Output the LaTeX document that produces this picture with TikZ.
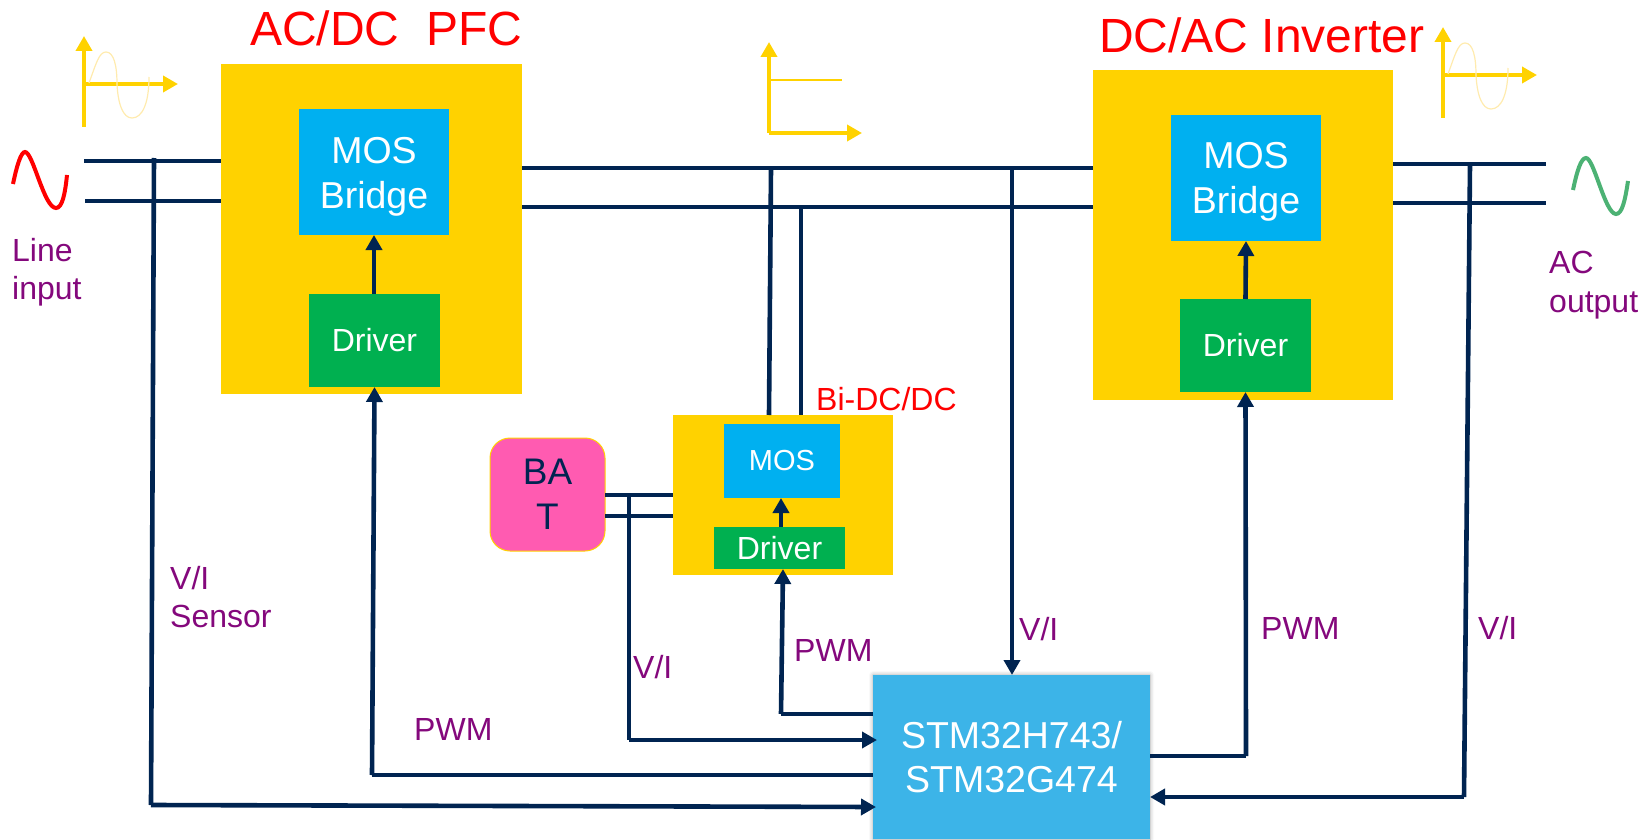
\documentclass[tikz,border=0pt]{standalone}
\usepackage{fontspec}
\setmainfont{Liberation Sans}
\usetikzlibrary{arrows.meta,shadows.blur}
\definecolor{navy}{HTML}{002451}
\definecolor{gold}{HTML}{FFD200}
\definecolor{paleg}{HTML}{FFEBAE}
\definecolor{mosc}{HTML}{00B0F0}
\definecolor{drvc}{HTML}{00B050}
\definecolor{stmc}{HTML}{3CB4E8}
\definecolor{batc}{HTML}{FF5BB1}
\definecolor{lab}{HTML}{84087C}
\definecolor{acg}{HTML}{4CB274}
\tikzset{
  box/.style={inner sep=0pt,outer sep=0pt,minimum width=#1},
  stage/.style={box=#1,fill=gold},
  mosbox/.style={box=#1,fill=mosc,text=white,align=center,font=\fontsize{37.5}{45}\selectfont},
  drvbox/.style={box=#1,fill=drvc,text=white,font=\fontsize{32}{38}\selectfont},
  wire/.style={draw=navy,line width=4.6pt},
  sig/.style={wire,-{Triangle[length=15pt,width=16pt]}},
  axis/.style={draw=gold,line width=3.7pt,-{Triangle[length=15pt,width=16pt]}},
  tag/.style={anchor=base west,inner sep=0pt,text=lab,font=\fontsize{32}{38}\selectfont},
  title/.style={anchor=base west,inner sep=0pt,text=red,font=\fontsize{48}{56}\selectfont},
  wave/.style={line width=1.2pt,draw=paleg},
}
\begin{document}
\begin{tikzpicture}[x=1pt,y=-1pt]
\useasboundingbox (0,0) rectangle (1644,840);
% stages
\node[stage=301pt,minimum height=329pt] (pfc) at (371.5,229) {};
\node[stage=300pt,minimum height=329pt] (inv) at (1243,235) {};
\node[stage=220pt,minimum height=160pt] (bi) at (783,494.5) {};
\node[mosbox=150pt,minimum height=126pt] (pmos) at (374,172) {};
\node[mosbox=150pt,minimum height=126pt] (imos) at (1246,178) {};
\node[text=white,align=center,inner sep=0pt,font=\fontsize{37.5}{45}\selectfont] (pmost) at (374,177) {MOS\\Bridge};
\node[text=white,align=center,inner sep=0pt,font=\fontsize{37.5}{45}\selectfont] (imost) at (1246,182) {MOS\\Bridge};
\node[drvbox=131pt,minimum height=93pt] (pdrv) at (374.5,340.5) {Driver};
\node[drvbox=131pt,minimum height=93pt] (idrv) at (1245.5,345.5) {\raisebox{-1pt}{Driver}};
\node[box=116pt,minimum height=74pt,fill=mosc,text=white,font=\fontsize{29}{34}\selectfont] (bmos) at (782,461) {MOS};
\node[drvbox=131pt,minimum height=42pt] (bdrv) at (779.5,548) {Driver};
\node[box=115pt,minimum height=113pt,draw=gold,line width=1pt,fill=batc,rounded corners=20pt,text=navy,align=center,font=\fontsize{37}{45}\selectfont] (bat) at (547.5,494.5) {BA\\T};
\node[box=277pt,minimum height=164pt,fill=stmc,text=white,align=center,font=\fontsize{37.5}{44}\selectfont,blur shadow={shadow xshift=0pt,shadow yshift=0pt,shadow blur radius=4pt,shadow opacity=35}] (stm) at (1011.5,757) {\raisebox{1pt}{STM32H743/}\\\raisebox{1pt}{STM32G474}};
% named points
\coordinate (inA) at (84,161); \coordinate (inB) at (85,201);
\coordinate (outA) at (1546,164); \coordinate (outB) at (1546,203);
\coordinate (sensTop) at (154,158); \coordinate (sensBot) at (151,805);
\coordinate (sensEnd) at (876,807);
\coordinate (outTop) at (1470,164); \coordinate (outBot) at (1464,797);
\coordinate (dcTap) at (1012,168);
\coordinate (biAtop) at (771,168); \coordinate (biAbot) at (769,415);
\coordinate (biBtop) at (801,207); \coordinate (biBbot) at (801,415);
\coordinate (batTop) at (629,495); \coordinate (batBot) at (629,740);
\coordinate (batEnd) at (877,740);
\coordinate (bwmA) at (781,714); \coordinate (bwmB) at (783,569);
% power lines
\draw[wire] (inA) -- (inA -| pfc.west);
\draw[wire] (inB) -- (inB -| pfc.west);
\draw[wire] (pfc.east |- dcTap) -- (inv.west |- dcTap);
\draw[wire] (pfc.east |- biBtop) -- (inv.west |- biBtop);
\draw[wire] (inv.east |- outA) -- (outA);
\draw[wire] (inv.east |- outB) -- (outB);
\draw[wire] (biAtop) -- (biAbot);
\draw[wire] (biBtop) -- (biBbot);
\draw[wire] (bat.east |- batTop) -- (bi.west |- batTop);
\draw[wire] (bat.east |- 0,516) -- (bi.west |- 0,516);
% control
\draw[wire] (sensTop) -- (sensBot);
\draw[sig] (sensBot) -- (sensEnd);
\draw[sig] (dcTap) -- (dcTap |- stm.north);
\draw[wire] (batTop) -- (batBot);
\draw[sig] (batBot) -- (batEnd);
\draw[wire] (stm.west |- bwmA) -- (bwmA);
\draw[sig] (bwmA) -- (bwmB);
\draw[wire] (stm.west |- 0,775) -- (372,775);
\draw[sig] (372,775) -- (pdrv.south);
\draw[wire] (stm.east |- 0,756) -- (1246,756);
\draw[sig] (1246,756) -- (idrv.south);
\draw[wire] (outTop) -- (outBot);
\draw[sig] (outBot) -- (outBot -| stm.east);
\draw[sig] (pdrv.north -| pmos.south) -- (pmos.south);
\draw[sig] (idrv.north) -- (imos.south);
\draw[sig] (781,527) -- (781,498);
% axes
\draw[axis] (84,127) -- (84,36);
\draw[axis] (84,84) -- (178,84);
\draw[wave] (89,83) .. controls (96,64) and (99,52) .. (106,52) .. controls (114,52) and (117,66) .. (117,84) .. controls (118,104) and (123,118) .. (132,118) .. controls (142,118) and (149,104) .. (149,77);
\draw[axis] (1443,118) -- (1443,27);
\draw[axis] (1443,75) -- (1537,75);
\draw[wave] (1448,74) .. controls (1455,55) and (1458,43) .. (1465,43) .. controls (1473,43) and (1476,57) .. (1476,75) .. controls (1477,95) and (1482,109) .. (1491,109) .. controls (1501,109) and (1508,95) .. (1508,68);
\draw[axis] (769,133) -- (769,42);
\draw[axis] (769,133) -- (862,133);
\draw[draw=gold,line width=1.2pt] (769,80) -- (842,80);
% source waves
\draw[red,line width=4pt] (13,184) .. controls (17,165) and (21,152) .. (25,152) .. controls (33,152) and (44,208) .. (56,208) .. controls (62,208) and (65,195) .. (67,175);
\draw[acg,line width=4pt] (1573,190) .. controls (1577,171) and (1581,158) .. (1586,158) .. controls (1594,158) and (1605,214) .. (1616,214) .. controls (1622,214) and (1625,201) .. (1628,181);
% labels
\node[title] (t1) at (250,46) {AC/DC\ \ PFC};
\node[title] (t2) at (1099,53) {DC/AC Inverter};
\node[anchor=base west,inner sep=0pt,text=red,font=\fontsize{32}{38}\selectfont] (t3) at (816,410) {Bi-DC/DC};
\node[tag] (l1) at (12,261) {Line};
\node[tag] (l2) at (12,299) {input};
\node[tag] (l3) at (1549,273) {AC};
\node[tag] (l4) at (1549,312) {output};
\node[tag] (l5) at (170,589) {V/I};
\node[tag] (l6) at (170,627) {Sensor};
\node[tag] (l7) at (414,740) {PWM};
\node[tag] (l8) at (633,678) {V/I};
\node[tag] (l9) at (794,661) {PWM};
\node[tag] (l10) at (1019,640) {V/I};
\node[tag] (l11) at (1261,639) {PWM};
\node[tag] (l12) at (1478,639) {V/I};
\end{tikzpicture}
\end{document}
